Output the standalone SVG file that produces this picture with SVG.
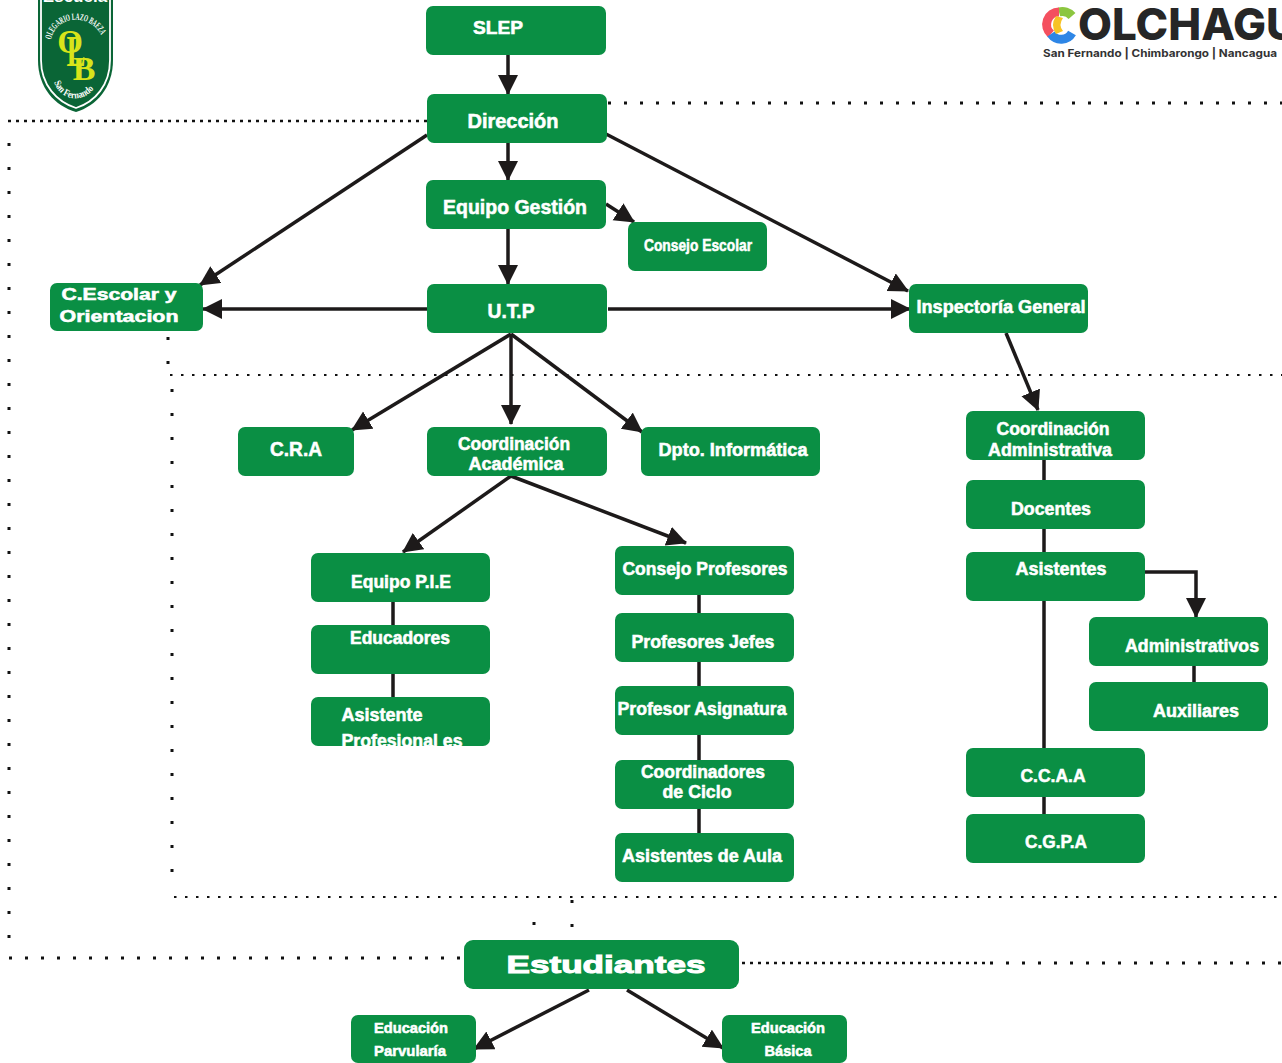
<svg xmlns="http://www.w3.org/2000/svg" width="1282" height="1063" viewBox="0 0 1282 1063">
<style>
.n{fill:#0a8f44}
.t{font-family:"Liberation Sans",Arial,sans-serif;font-weight:700;fill:#fff;stroke:#fff;stroke-width:.55;text-anchor:middle;font-size:18px}
.c{fill:none;stroke:#1d1a1a;stroke-width:3.5}
.a{marker-end:url(#ah)}
.d{fill:none;stroke:#111;stroke-width:3}
.sp{stroke-dasharray:3 13}
.de{stroke-dasharray:3 5;stroke-width:2.5}
.me{stroke-dasharray:2.5 8.5;stroke-width:2}
.ve{stroke-dasharray:3 21}
.ser{font-family:"Liberation Serif",serif;font-weight:700}
</style>
<defs>
<marker id="ah" markerUnits="userSpaceOnUse" markerWidth="22" markerHeight="22" refX="19" refY="10" orient="auto"><path d="M0 0L20 10L0 20Z" fill="#1d1a1a"/></marker>
<clipPath id="asc"><rect x="311" y="697" width="179" height="49"/></clipPath>
<path id="arcT" d="M51 40C56 13 95 13 103 40"/>
<path id="arcB" d="M54 82C62 104 88 104 99 81"/>
</defs>
<rect width="1282" height="1063" fill="#fff"/>
<g id="logo-escuela">
<path d="M38 0H113V60C113 88 96 106 76 112C55 106 38 88 38 60Z" fill="#0a6536"/>
<path d="M41 0V60C41 85 57 102 76 108C95 102 110 85 110 60V0" fill="none" stroke="#fff" stroke-width="1.8"/>
<text x="75" y="2" text-anchor="middle" font-family="Liberation Sans,sans-serif" font-weight="700" font-size="17" fill="#fff">Escuela</text>
<text class="ser" font-size="9.5" fill="#fff"><textPath href="#arcT" textLength="66" lengthAdjust="spacingAndGlyphs">OLEGARIO LAZO BAEZA</textPath></text>
<text class="ser" font-size="10" fill="#fff"><textPath href="#arcB" textLength="50" lengthAdjust="spacingAndGlyphs">San Fernando</textPath></text>
<text class="ser" x="70" y="53" text-anchor="middle" font-size="33" fill="#d8e41a">O</text>
<text class="ser" x="76" y="66" text-anchor="middle" font-size="44" fill="#d8e41a" textLength="19" lengthAdjust="spacingAndGlyphs">L</text>
<text class="ser" x="84" y="80" text-anchor="middle" font-size="34" fill="#d8e41a">B</text>
</g>
<g id="logo-colchagua">
<path d="M1072 16A12.5 12.5 0 0 0 1059 12" fill="none" stroke="#8cc63f" stroke-width="9"/>
<path d="M1059 12A12.5 12.5 0 0 0 1051 34" fill="none" stroke="#f4505f" stroke-width="9"/>
<path d="M1051 34A12.5 12.5 0 0 0 1072 33" fill="none" stroke="#2e86e6" stroke-width="9"/>
<path d="M1056 16Q1050 25 1056 34L1063 31Q1058 25 1063 18Z" fill="#f7c325"/>
<text x="1078" y="40" font-family="Inter,Liberation Sans,sans-serif" font-weight="800" font-size="44" fill="#262626" textLength="220" lengthAdjust="spacingAndGlyphs">OLCHAGU</text>
<text x="1043" y="57" font-family="Inter,Liberation Sans,sans-serif" font-weight="700" font-size="10.5" fill="#333" textLength="234" lengthAdjust="spacingAndGlyphs">San Fernando | Chimbarongo | Nancagua</text>
</g>
<g id="dotted">
<path class="d sp" d="M608 103H1282"/>
<path class="d de" d="M8 121H427"/>
<path class="d ve" d="M9 143V958"/>
<path class="d sp" d="M9 958H465"/>
<path class="d de" d="M742 963H985"/>
<path class="d sp" d="M990 963H1282"/>
<path class="d ve" d="M168 337V375"/>
<path class="d me" d="M170 375H1282"/>
<path class="d ve" d="M172 389V880"/>
<path class="d me" d="M174 897H1282"/>
<path class="d ve" d="M572 898V945" stroke-dashoffset="-2"/>
<path class="d ve" d="M534 922V945"/>
</g>
<g id="connectors">
<path class="c a" d="M508 55V94"/>
<path class="c a" d="M508 143V180"/>
<path class="c a" d="M508 229V284"/>
<path class="c a" d="M606 204L634 222"/>
<path class="c a" d="M427 135L200 285"/>
<path class="c a" d="M606 134L908 291"/>
<path class="c a" d="M427 309H203"/>
<path class="c a" d="M608 309H910"/>
<path class="c a" d="M511 334L352 430"/>
<path class="c a" d="M511 334V424"/>
<path class="c a" d="M511 334L642 432"/>
<path class="c a" d="M1006 333L1038 410"/>
<path class="c a" d="M511 476L403 552"/>
<path class="c a" d="M511 476L686 543"/>
<path class="c" d="M393 602V625M393 674V697"/>
<path class="c" d="M699 595V613M699 662V686M699 735V760M699 809V833"/>
<path class="c" d="M1044 460V480M1044 529V552M1044 601V748M1044 797V814"/>
<path class="c a" d="M1145 572H1196V617"/>
<path class="c" d="M1194 666V682"/>
<path class="c a" d="M589 990L474 1049"/>
<path class="c a" d="M627 990L723 1048"/>
</g>
<g id="slep"><rect class="n" x="426" y="6" width="180" height="49" rx="7"/><text class="t" x="498" y="34" textLength="50" lengthAdjust="spacingAndGlyphs">SLEP</text></g>
<g id="direccion"><rect class="n" x="427" y="94" width="180" height="49" rx="7"/><text class="t" x="513" y="128" style="font-size:20px" textLength="91" lengthAdjust="spacingAndGlyphs">Dirección</text></g>
<g id="equipo-gestion"><rect class="n" x="426" y="180" width="180" height="49" rx="7"/><text class="t" x="515" y="214" style="font-size:20px" textLength="144" lengthAdjust="spacingAndGlyphs">Equipo Gestión</text></g>
<g id="consejo-escolar"><rect class="n" x="628" y="222" width="139" height="49" rx="7"/><text class="t" x="698" y="251" style="font-size:17px" textLength="108" lengthAdjust="spacingAndGlyphs">Consejo Escolar</text></g>
<g id="utp"><rect class="n" x="427" y="284" width="180" height="49" rx="7"/><text class="t" x="511" y="318" style="font-size:20px" textLength="47" lengthAdjust="spacingAndGlyphs">U.T.P</text></g>
<g id="c-escolar"><rect class="n" x="50" y="283" width="153" height="48" rx="7"/><text class="t" x="119" y="300" style="font-size:16px" textLength="115" lengthAdjust="spacingAndGlyphs">C.Escolar y</text><text class="t" x="119" y="322" style="font-size:16px" textLength="119" lengthAdjust="spacingAndGlyphs">Orientacion</text></g>
<g id="inspectoria"><rect class="n" x="909" y="284" width="179" height="49" rx="7"/><text class="t" x="1001" y="313" textLength="169" lengthAdjust="spacingAndGlyphs">Inspectoría General</text></g>
<g id="cra"><rect class="n" x="238" y="427" width="116" height="49" rx="7"/><text class="t" x="296" y="456" style="font-size:20px" textLength="52" lengthAdjust="spacingAndGlyphs">C.R.A</text></g>
<g id="coord-academica"><rect class="n" x="427" y="427" width="180" height="49" rx="7"/><text class="t" x="514" y="450" textLength="112" lengthAdjust="spacingAndGlyphs">Coordinación</text><text class="t" x="516" y="470" textLength="95" lengthAdjust="spacingAndGlyphs">Académica</text></g>
<g id="dpto"><rect class="n" x="641" y="427" width="179" height="49" rx="7"/><text class="t" x="733" y="456" textLength="149" lengthAdjust="spacingAndGlyphs">Dpto. Informática</text></g>
<g id="coord-admin"><rect class="n" x="966" y="411" width="179" height="49" rx="7"/><text class="t" x="1053" y="435" textLength="113" lengthAdjust="spacingAndGlyphs">Coordinación</text><text class="t" x="1050" y="456" textLength="124" lengthAdjust="spacingAndGlyphs">Administrativa</text></g>
<g id="docentes"><rect class="n" x="966" y="480" width="179" height="49" rx="7"/><text class="t" x="1051" y="515" textLength="80" lengthAdjust="spacingAndGlyphs">Docentes</text></g>
<g id="asistentes"><rect class="n" x="966" y="552" width="179" height="49" rx="7"/><text class="t" x="1061" y="575" textLength="91" lengthAdjust="spacingAndGlyphs">Asistentes</text></g>
<g id="administrativos"><rect class="n" x="1089" y="617" width="179" height="49" rx="7"/><text class="t" x="1192" y="652" textLength="134" lengthAdjust="spacingAndGlyphs">Administrativos</text></g>
<g id="auxiliares"><rect class="n" x="1089" y="682" width="179" height="49" rx="7"/><text class="t" x="1196" y="717" textLength="86" lengthAdjust="spacingAndGlyphs">Auxiliares</text></g>
<g id="ccaa"><rect class="n" x="966" y="748" width="179" height="49" rx="7"/><text class="t" x="1053" y="782" textLength="65" lengthAdjust="spacingAndGlyphs">C.C.A.A</text></g>
<g id="cgpa"><rect class="n" x="966" y="814" width="179" height="49" rx="7"/><text class="t" x="1056" y="848" textLength="62" lengthAdjust="spacingAndGlyphs">C.G.P.A</text></g>
<g id="equipo-pie"><rect class="n" x="311" y="553" width="179" height="49" rx="7"/><text class="t" x="401" y="588" textLength="100" lengthAdjust="spacingAndGlyphs">Equipo P.I.E</text></g>
<g id="educadores"><rect class="n" x="311" y="625" width="179" height="49" rx="7"/><text class="t" x="400" y="644" textLength="100" lengthAdjust="spacingAndGlyphs">Educadores</text></g>
<g id="asistente-prof"><rect class="n" x="311" y="697" width="179" height="49" rx="7"/><text class="t" x="382" y="721" textLength="81" lengthAdjust="spacingAndGlyphs">Asistente</text><g clip-path="url(#asc)"><text class="t" x="402" y="747" textLength="121" lengthAdjust="spacingAndGlyphs">Profesional es</text></g></g>
<g id="consejo-profesores"><rect class="n" x="615" y="546" width="179" height="49" rx="7"/><text class="t" x="705" y="575" textLength="165" lengthAdjust="spacingAndGlyphs">Consejo Profesores</text></g>
<g id="profesores-jefes"><rect class="n" x="615" y="613" width="179" height="49" rx="7"/><text class="t" x="703" y="648" textLength="143" lengthAdjust="spacingAndGlyphs">Profesores Jefes</text></g>
<g id="profesor-asignatura"><rect class="n" x="615" y="686" width="179" height="49" rx="7"/><text class="t" x="702" y="715" textLength="169" lengthAdjust="spacingAndGlyphs">Profesor Asignatura</text></g>
<g id="coord-ciclo"><rect class="n" x="615" y="760" width="179" height="49" rx="7"/><text class="t" x="703" y="778" textLength="124" lengthAdjust="spacingAndGlyphs">Coordinadores</text><text class="t" x="697" y="798" textLength="69" lengthAdjust="spacingAndGlyphs">de Ciclo</text></g>
<g id="asistentes-aula"><rect class="n" x="615" y="833" width="179" height="49" rx="7"/><text class="t" x="702" y="862" textLength="160" lengthAdjust="spacingAndGlyphs">Asistentes de Aula</text></g>
<g id="estudiantes"><rect class="n" x="464" y="940" width="275" height="49" rx="9"/><text class="t" x="606" y="973" style="font-size:24px;stroke-width:1" textLength="199" lengthAdjust="spacingAndGlyphs">Estudiantes</text></g>
<g id="ed-parvularia"><rect class="n" x="351" y="1015" width="125" height="48" rx="7"/><text class="t" x="411" y="1033" style="font-size:15px" textLength="74" lengthAdjust="spacingAndGlyphs">Educación</text><text class="t" x="410" y="1056" style="font-size:15px" textLength="72" lengthAdjust="spacingAndGlyphs">Parvularía</text></g>
<g id="ed-basica"><rect class="n" x="722" y="1015" width="125" height="48" rx="7"/><text class="t" x="788" y="1033" style="font-size:15px" textLength="74" lengthAdjust="spacingAndGlyphs">Educación</text><text class="t" x="788" y="1056" style="font-size:15px" textLength="47" lengthAdjust="spacingAndGlyphs">Básica</text></g>
</svg>
